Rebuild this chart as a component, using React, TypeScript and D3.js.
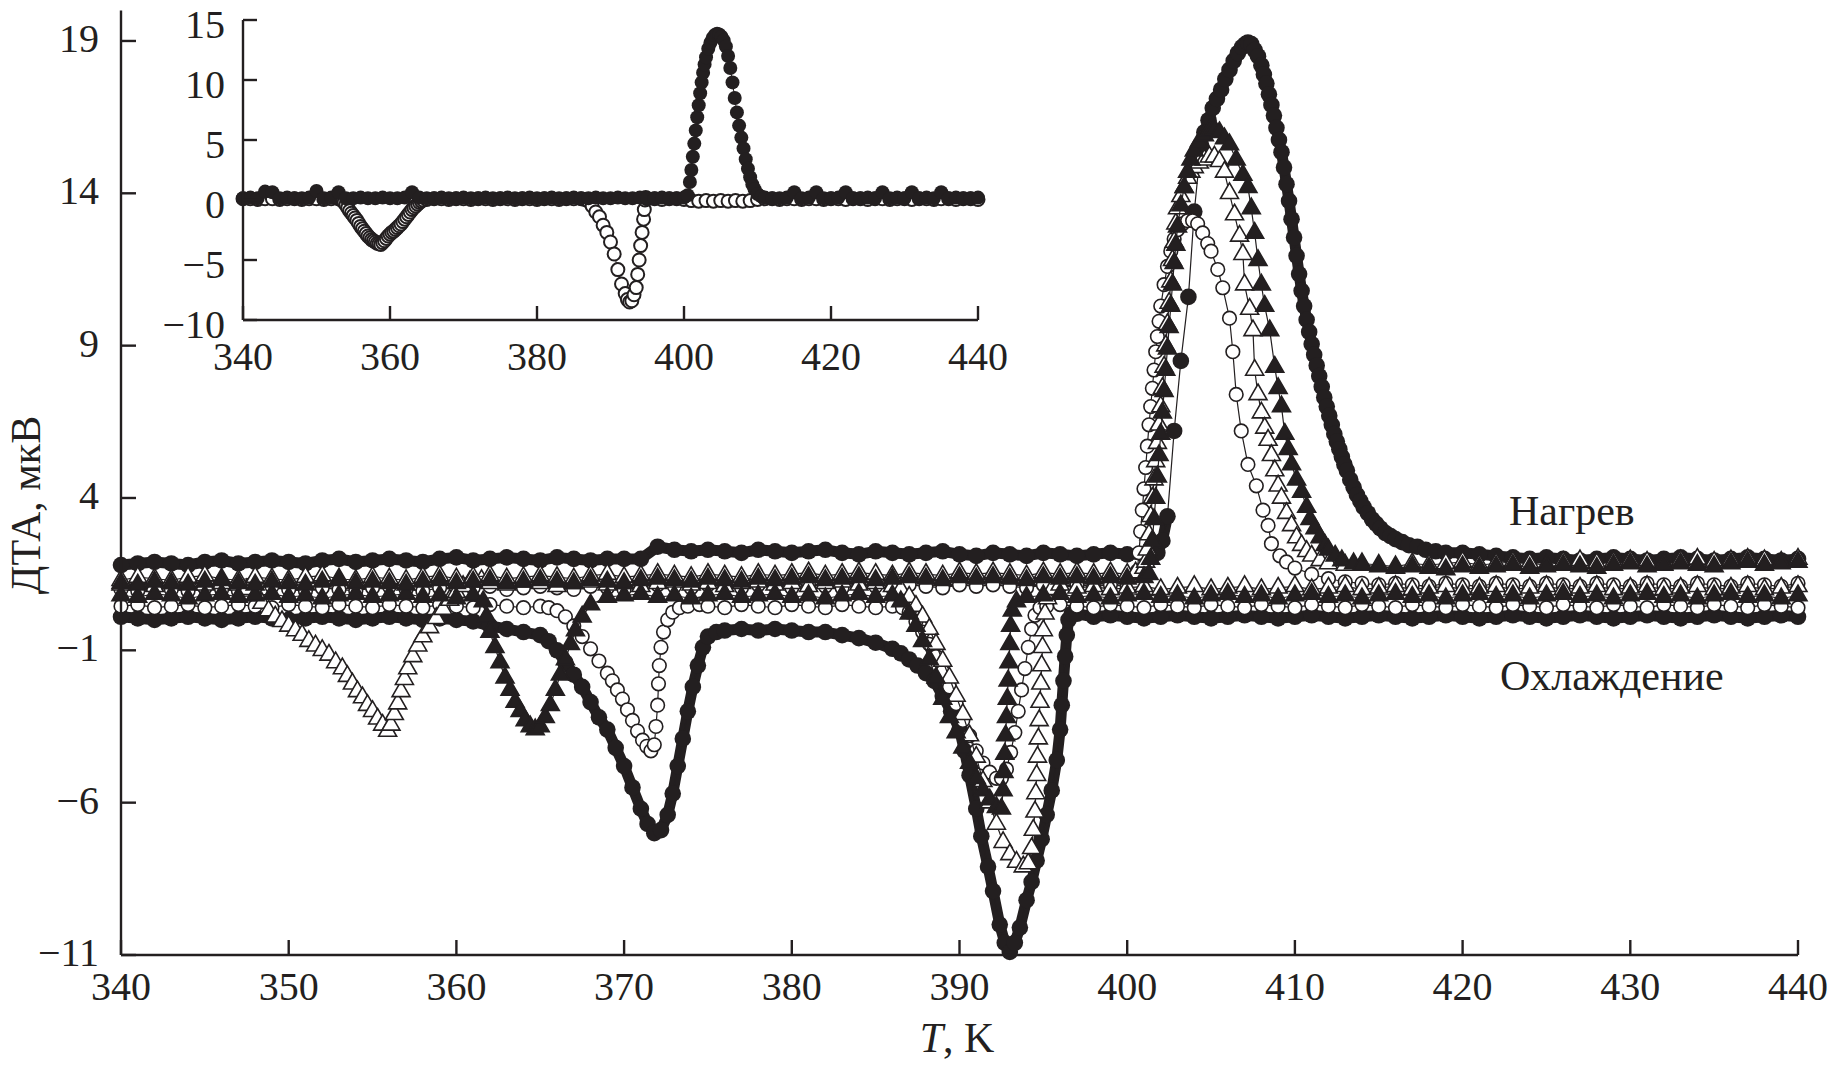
import React from "react";
import * as d3 from "d3";

type Pt = [number, number];

const W = 1834;
const H = 1073;
const INK = "#231f20";

// ---------- axis ticks & texts ----------
const mainXTicks = [340, 350, 360, 370, 380, 390, 400, 410, 420, 430, 440];
const mainYTicks = [-11, -6, -1, 4, 9, 14, 19];
const insetXTicks = [340, 360, 380, 400, 420, 440];
const insetYTicks = [-10, -5, 0, 5, 10, 15];
const yTitle = "ДТА, мкВ";
const xTitleVar = "T";
const xTitleUnit = ", K";
const heatLabel = "Нагрев";
const coolLabel = "Охлаждение";

// ---------- main plot: heating runs ----------
const mainHeatFilled: Pt[] = [
  [340,1.8],[341,1.85],[342,1.9],[343,1.85],[344,1.8],[345,1.9],[346,1.95],[347,1.85],[348,1.9],[349,1.95],
  [350,1.9],[351,1.85],[352,1.95],[353,2.0],[354,1.9],[355,1.95],[356,2.0],[357,1.95],[358,1.9],[359,2.0],
  [360,2.05],[361,1.95],[362,2.0],[363,2.05],[364,2.0],[365,1.95],[366,2.05],[367,2.0],[368,1.95],[369,2.0],
  [370,2.0],[371,2.0],[372,2.4],[373,2.3],[374,2.25],[375,2.3],[376,2.25],[377,2.2],[378,2.3],[379,2.25],
  [380,2.2],[381,2.25],[382,2.3],[383,2.2],[384,2.15],[385,2.25],[386,2.2],[387,2.15],[388,2.2],[389,2.25],
  [390,2.15],[391,2.1],[392,2.2],[393,2.15],[394,2.1],[395,2.2],[396,2.15],[397,2.1],[398,2.15],[399,2.2],
  [400,2.15],[401,2.15],[401.8,2.2],[402.1,2.6],[402.4,3.4],[402.8,6.2],[403.2,8.5],[403.65,10.6],
  [404.0,13.4],[404.4,15.6],[404.6,16.0],[404.85,16.4],[405.1,16.8],[405.35,17.1],[405.6,17.4],[405.85,17.75],
  [406.1,18.05],[406.35,18.35],[406.6,18.6],[406.85,18.8],[407.05,18.9],[407.2,18.95],[407.4,18.9],
  [407.6,18.7],[407.8,18.5],[408,18.2],[408.15,17.9],[408.3,17.6],[408.45,17.25],[408.6,16.9],[408.75,16.55],
  [408.9,16.15],[409.05,15.75],[409.2,15.35],[409.35,14.85],[409.5,14.3],[409.65,13.75],[409.8,13.15],
  [409.95,12.55],[410.1,11.95],[410.25,11.35],[410.4,10.8],[410.55,10.3],[410.7,9.85],[410.85,9.45],
  [411,9.05],[411.15,8.7],[411.3,8.35],[411.45,8.0],[411.6,7.65],[411.75,7.3],[411.9,7.0],[412.05,6.7],
  [412.2,6.4],[412.35,6.1],[412.5,5.85],[412.65,5.6],[412.8,5.35],[412.95,5.1],[413.1,4.9],[413.3,4.6],
  [413.5,4.35],[413.7,4.1],[413.9,3.9],[414.1,3.7],[414.35,3.5],[414.6,3.3],[414.85,3.15],[415.1,3.0],
  [415.4,2.85],[415.7,2.75],[416,2.65],[416.4,2.55],[416.8,2.45],[417.3,2.4],[417.8,2.3],[418.4,2.25],
  [419,2.2],[420,2.2],[421,2.15],[422,2.1],[423,2.05],[424,2.0],[425,2.05],[426,2.0],[427,1.95],
  [428,2.0],[429,2.05],[430,2.0],[431,1.95],[432,2.0],[433,2.05],[434,2.0],[435,1.95],[436,2.0],[437,2.05],
  [438,2.0],[439,1.95],[440,2.0]
];

const mainHeatTri: Pt[] = [
  [340,1.3],[341,1.4],[342,1.35],[343,1.3],[344,1.4],[345,1.45],[346,1.35],[347,1.3],[348,1.4],[349,1.35],
  [350,1.3],[351,1.4],[352,1.45],[353,1.35],[354,1.3],[355,1.4],[356,1.35],[357,1.3],[358,1.4],[359,1.45],
  [360,1.35],[361,1.4],[362,1.45],[363,1.35],[364,1.4],[365,1.45],[366,1.4],[367,1.35],[368,1.45],[369,1.5],
  [370,1.4],[371,1.45],[372,1.5],[373,1.45],[374,1.4],[375,1.5],[376,1.45],[377,1.4],[378,1.5],[379,1.45],
  [380,1.5],[381,1.55],[382,1.45],[383,1.5],[384,1.55],[385,1.5],[386,1.45],[387,1.55],[388,1.5],[389,1.45],
  [390,1.55],[391,1.5],[392,1.55],[393,1.5],[394,1.45],[395,1.55],[396,1.5],[397,1.55],[398,1.5],[399,1.55],
  [400,1.5],[400.5,1.55],[401,1.7],[401.1,1.9],[401.2,2.3],[401.3,2.8],[401.4,3.4],[401.5,4.0],[401.6,4.6],
  [401.7,5.2],[401.8,5.8],[401.9,6.4],[402,7.0],[402.1,7.6],[402.2,8.3],[402.3,9.0],[402.4,9.7],[402.5,10.4],
  [402.6,11.1],[402.7,11.8],[402.8,12.4],[402.9,13.0],[403,13.5],[403.2,13.9],[403.4,14.2],[403.6,14.5],
  [403.8,14.7],[404,14.85],[404.3,15.0],[404.6,15.1],[404.9,15.2],[405.2,15.2],[405.5,15.05],[405.8,14.7],
  [406.1,14.0],[406.4,13.3],[406.7,12.6],[406.9,12.0],[407,11.0],[407.3,10.2],[407.5,9.5],[407.6,8.2],
  [407.8,7.4],[408,6.8],[408.2,6.3],[408.4,5.9],[408.6,5.4],[408.8,4.9],[409,4.4],[409.2,4.0],[409.5,3.5],
  [409.8,3.1],[410.1,2.7],[410.4,2.45],[410.7,2.25],[411,2.1],[411.5,1.95],[412,1.85],[413,1.8],[414,1.85],
  [415,1.8],[416,1.75],[417,1.85],[418,1.8],[419,1.85],[420,1.9],[421,1.8],[422,1.85],[423,1.9],[424,1.85],
  [425,1.8],[426,1.9],[427,1.95],[428,1.85],[429,1.9],[430,1.95],[431,1.9],[432,1.85],[433,1.95],[434,2.0],
  [435,1.9],[436,1.95],[437,2.0],[438,1.95],[439,1.9],[440,2.0]
];

const mainHeatTriFill: Pt[] = [
  [340,1.2],[341,1.15],[342,1.25],[343,1.2],[344,1.15],[345,1.25],[346,1.3],[347,1.2],[348,1.15],[349,1.25],
  [350,1.2],[351,1.15],[352,1.25],[353,1.3],[354,1.2],[355,1.25],[356,1.2],[357,1.15],[358,1.25],[359,1.3],
  [360,1.2],[361,1.25],[362,1.3],[363,1.2],[364,1.25],[365,1.3],[366,1.25],[367,1.2],[368,1.3],[369,1.25],
  [370,1.2],[371,1.3],[372,1.35],[373,1.3],[374,1.25],[375,1.35],[376,1.3],[377,1.25],[378,1.35],[379,1.3],
  [380,1.35],[381,1.4],[382,1.3],[383,1.35],[384,1.4],[385,1.3],[386,1.35],[387,1.4],[388,1.35],[389,1.3],
  [390,1.4],[391,1.35],[392,1.4],[393,1.35],[394,1.3],[395,1.4],[396,1.35],[397,1.4],[398,1.35],[399,1.4],
  [400,1.35],[401,1.4],[401.3,1.5],[401.4,2.0],[401.5,2.6],[401.6,3.3],[401.7,4.0],[401.8,4.7],[401.9,5.4],
  [402,6.1],[402.1,6.8],[402.2,7.5],[402.3,8.2],[402.4,8.9],[402.5,9.6],[402.6,10.3],[402.7,11.0],[402.8,11.7],
  [402.9,12.3],[403,12.9],[403.2,13.6],[403.4,14.2],[403.6,14.7],[403.8,15.1],[404,15.4],[404.3,15.7],
  [404.6,15.9],[404.9,16.05],[405.2,16.1],[405.5,16.0],[405.8,15.8],[406.1,15.6],[406.5,15.1],[406.9,14.6],
  [407.2,14.2],[407.4,13.5],[407.6,12.7],[407.8,11.8],[408,11.0],[408.2,10.3],[408.5,9.5],[408.8,8.3],
  [409,7.6],[409.2,7.0],[409.4,6.1],[409.6,5.6],[409.8,5.1],[410.1,4.6],[410.4,4.2],[410.7,3.7],[410.9,3.3],
  [411.2,3.0],[411.5,2.7],[411.8,2.45],[412,2.3],[412.4,2.1],[412.8,1.95],[413.5,1.85],[414,1.8],[415,1.75],
  [416,1.7],[417,1.75],[418,1.7],[419,1.65],[420,1.75],[421,1.7],[422,1.75],[423,1.8],[424,1.7],[425,1.75],
  [426,1.8],[427,1.75],[428,1.7],[429,1.8],[430,1.85],[431,1.75],[432,1.8],[433,1.85],[434,1.8],[435,1.75],
  [436,1.85],[437,1.9],[438,1.8],[439,1.85],[440,1.9]
];

const mainHeatCircle: Pt[] = [
  [340,1.0],[341,0.95],[342,1.05],[343,1.0],[344,0.95],[345,1.05],[346,1.0],[347,0.95],[348,1.05],[349,1.1],
  [350,1.0],[351,0.95],[352,1.05],[353,1.0],[354,0.95],[355,1.05],[356,1.1],[357,1.0],[358,0.95],[359,1.05],
  [360,1.0],[361,1.05],[362,1.1],[363,1.0],[364,1.05],[365,1.1],[366,1.05],[367,1.0],[368,1.1],[369,1.05],
  [370,1.0],[371,1.1],[372,1.15],[373,1.1],[374,1.05],[375,1.15],[376,1.1],[377,1.05],[378,1.15],[379,1.1],
  [380,1.05],[381,1.15],[382,1.1],[383,1.05],[384,1.15],[385,1.1],[386,1.05],[387,1.15],[388,1.1],[389,1.05],
  [390,1.15],[391,1.1],[392,1.15],[393,1.1],[394,1.05],[395,1.15],[396,1.1],[397,1.15],[398,1.1],[399,1.15],
  [400,1.1],[400.5,1.2],[400.6,1.6],[400.7,2.2],[400.8,2.9],[400.9,3.6],[401,4.3],[401.1,5.0],[401.2,5.7],
  [401.3,6.4],[401.4,7.0],[401.5,7.6],[401.6,8.2],[401.7,8.8],[401.8,9.3],[401.9,9.8],[402,10.3],[402.2,11.0],
  [402.4,11.6],[402.6,12.1],[402.8,12.5],[403,12.8],[403.3,13.0],[403.6,13.1],[403.9,13.1],[404.2,13.0],
  [404.5,12.7],[404.8,12.35],[405,12.1],[405.4,11.5],[405.7,10.9],[406.1,9.9],[406.3,8.8],[406.5,7.4],
  [406.8,6.2],[407.2,5.1],[407.7,4.4],[408.1,3.6],[408.4,3.1],[408.6,2.5],[409.1,2.1],[409.5,1.9],[410,1.7],
  [411,1.5],[412,1.35],[413,1.25],[414,1.2],[415,1.15],[416,1.2],[417,1.15],[418,1.1],[419,1.2],[420,1.15],
  [421,1.1],[422,1.2],[423,1.15],[424,1.1],[425,1.2],[426,1.15],[427,1.1],[428,1.2],[429,1.15],[430,1.1],
  [431,1.2],[432,1.15],[433,1.1],[434,1.2],[435,1.15],[436,1.1],[437,1.2],[438,1.15],[439,1.1],[440,1.2]
];

// ---------- main plot: cooling runs ----------
const mainCoolFilled: Pt[] = [
  [340,0.1],[341,0.05],[342,0.0],[343,0.05],[344,0.1],[345,0.05],[346,0.0],[347,0.05],[348,0.1],[349,0.05],
  [350,0.0],[351,0.05],[352,0.1],[353,0.05],[354,0.0],[355,0.05],[356,0.1],[357,0.05],[358,0.0],[359,0.05],
  [360,0.0],[361,-0.05],[362,-0.2],[363,-0.3],[364,-0.4],[365,-0.5],[365.5,-0.7],[366,-1.0],[366.5,-1.4],
  [367,-1.8],[367.5,-2.2],[368,-2.7],[368.5,-3.2],[369,-3.6],[369.5,-4.2],[370,-4.8],[370.5,-5.5],[371,-6.2],
  [371.4,-6.7],[371.8,-7.0],[372.2,-6.9],[372.6,-6.4],[372.9,-5.7],[373.2,-4.8],[373.5,-3.9],[373.8,-3.0],
  [374.1,-2.2],[374.4,-1.5],[374.7,-0.9],[375,-0.55],[375.5,-0.4],[376,-0.35],[377,-0.3],[378,-0.35],
  [379,-0.3],[380,-0.35],[381,-0.4],[382,-0.4],[383,-0.5],[384,-0.6],[385,-0.75],[386,-0.95],[386.5,-1.1],
  [387,-1.3],[387.5,-1.5],[388,-1.75],[388.5,-2.0],[389,-2.5],[389.5,-3.0],[390,-3.6],[390.3,-4.3],
  [390.6,-5.1],[391,-6.2],[391.3,-7.1],[391.7,-8.1],[392,-8.9],[392.4,-10.0],[392.7,-10.6],[393,-10.9],
  [393.3,-10.6],[393.6,-10.1],[394,-9.2],[394.3,-8.6],[394.6,-7.9],[394.9,-7.2],[395.2,-6.4],[395.5,-5.6],
  [395.8,-4.6],[396,-3.6],[396.1,-2.8],[396.2,-2.0],[396.3,-1.2],[396.4,-0.5],[396.5,0.0],[396.7,0.2],
  [397,0.2],[398,0.1],[399,0.15],[400,0.1],[401,0.05],[402,0.1],[403,0.15],[404,0.1],[405,0.05],[406,0.1],
  [407,0.15],[408,0.1],[409,0.05],[410,0.1],[411,0.15],[412,0.1],[413,0.05],[414,0.1],[415,0.15],[416,0.1],
  [417,0.05],[418,0.1],[419,0.15],[420,0.1],[421,0.05],[422,0.1],[423,0.15],[424,0.1],[425,0.05],[426,0.1],
  [427,0.15],[428,0.1],[429,0.05],[430,0.1],[431,0.15],[432,0.1],[433,0.05],[434,0.1],[435,0.15],[436,0.1],
  [437,0.05],[438,0.1],[439,0.15],[440,0.1]
];

const mainCoolCircle: Pt[] = [
  [340,0.45],[341,0.5],[342,0.4],[343,0.45],[344,0.5],[345,0.4],[346,0.45],[347,0.5],[348,0.45],[349,0.4],
  [350,0.5],[351,0.45],[352,0.4],[353,0.5],[354,0.45],[355,0.4],[356,0.5],[357,0.45],[358,0.4],[359,0.5],
  [360,0.45],[361,0.4],[362,0.5],[363,0.45],[364,0.4],[365,0.45],[365.5,0.4],[366,0.3],[366.5,0.1],
  [367,-0.2],[367.5,-0.55],[368,-0.95],[368.5,-1.35],[369,-1.75],[369.3,-2.0],[369.6,-2.3],[369.9,-2.6],
  [370.2,-2.95],[370.5,-3.3],[370.8,-3.65],[371.1,-3.95],[371.35,-4.15],[371.6,-4.3],[371.8,-4.1],
  [371.9,-3.5],[372,-2.8],[372.05,-2.1],[372.1,-1.5],[372.2,-0.9],[372.35,-0.4],[372.6,0.0],[372.9,0.25],
  [373.3,0.4],[373.8,0.45],[374.5,0.5],[375,0.45],[376,0.4],[377,0.5],[378,0.45],[379,0.4],[380,0.5],
  [381,0.45],[382,0.4],[383,0.5],[384,0.45],[385,0.4],[386,0.45],[386.6,0.4],[387,0.25],[387.4,-0.05],
  [387.8,-0.4],[388.2,-0.8],[388.6,-1.2],[389,-1.7],[389.4,-2.2],[389.8,-2.75],[390.2,-3.3],[390.6,-3.8],
  [391,-4.3],[391.4,-4.7],[391.8,-5.0],[392.2,-5.2],[392.5,-5.2],[392.8,-4.9],[393.05,-4.35],[393.3,-3.7],
  [393.5,-3.0],[393.7,-2.3],[393.9,-1.6],[394.1,-0.9],[394.3,-0.3],[394.5,0.15],[394.8,0.4],[395.2,0.45],
  [396,0.5],[397,0.45],[398,0.4],[399,0.5],[400,0.45],[401,0.4],[402,0.5],[403,0.45],[404,0.4],[405,0.5],
  [406,0.45],[407,0.4],[408,0.5],[409,0.45],[410,0.4],[411,0.5],[412,0.45],[413,0.4],[414,0.5],[415,0.45],
  [416,0.4],[417,0.5],[418,0.45],[419,0.4],[420,0.5],[421,0.45],[422,0.4],[423,0.5],[424,0.45],[425,0.4],
  [426,0.5],[427,0.45],[428,0.4],[429,0.5],[430,0.45],[431,0.4],[432,0.5],[433,0.45],[434,0.4],[435,0.5],
  [436,0.45],[437,0.4],[438,0.5],[439,0.45],[440,0.4]
];

const mainCoolTri: Pt[] = [
  [340,1.15],[341,1.2],[342,1.1],[343,1.2],[344,1.25],[345,1.15],[346,1.2],[347,1.15],[347.5,1.0],[348,0.8],
  [348.4,0.55],[348.8,0.3],[349.2,0.1],[349.6,-0.05],[350,-0.2],[350.4,-0.35],[350.8,-0.5],[351.2,-0.7],
  [351.6,-0.85],[352,-1.0],[352.4,-1.15],[352.8,-1.4],[353.2,-1.6],[353.5,-1.85],[353.8,-2.1],[354.1,-2.35],
  [354.4,-2.55],[354.7,-2.8],[355,-3.0],[355.3,-3.25],[355.6,-3.45],[355.9,-3.65],[356.1,-3.45],[356.3,-3.1],
  [356.5,-2.75],[356.7,-2.35],[356.9,-1.95],[357.1,-1.6],[357.4,-1.2],[357.7,-0.85],[358,-0.55],[358.4,-0.25],
  [358.8,0.05],[359.2,0.35],[359.6,0.65],[360,0.9],[360.4,1.1],[360.8,1.25],[361.5,1.3],[362,1.2],[363,1.15],
  [364,1.25],[365,1.2],[366,1.1],[367,1.2],[368,1.25],[369,1.15],[370,1.2],[371,1.1],[372,1.2],[373,1.25],
  [374,1.15],[375,1.2],[376,1.1],[377,1.2],[378,1.25],[379,1.15],[380,1.2],[381,1.1],[382,1.2],[383,1.25],
  [384,1.15],[385,1.2],[386,1.1],[386.5,1.0],[387,0.75],[387.4,0.45],[387.8,0.1],[388.2,-0.3],[388.6,-0.8],
  [389,-1.35],[389.4,-1.9],[389.8,-2.5],[390.2,-3.1],[390.6,-3.8],[391,-4.5],[391.4,-5.3],[391.8,-6.0],
  [392.2,-6.7],[392.6,-7.3],[393,-7.7],[393.4,-7.95],[393.8,-8.1],[394.1,-8.0],[394.3,-7.5],[394.4,-6.9],
  [394.5,-6.3],[394.55,-5.7],[394.6,-5.1],[394.65,-4.5],[394.7,-3.9],[394.75,-3.3],[394.8,-2.7],[394.85,-2.1],
  [394.9,-1.5],[394.95,-0.9],[395,-0.35],[395.1,0.2],[395.25,0.7],[395.5,1.0],[396,1.15],[397,1.05],[398,1.1],
  [399,1.0],[400,1.05],[401,1.1],[402,1.0],[403,1.05],[404,1.1],[405,1.0],[406,1.05],[407,1.1],[408,1.0],
  [409,1.05],[410,1.1],[411,1.0],[412,1.05],[413,1.1],[414,1.0],[415,1.05],[416,1.1],[417,1.0],[418,1.05],
  [419,1.1],[420,1.0],[421,1.05],[422,1.1],[423,1.0],[424,1.05],[425,1.1],[426,1.0],[427,1.05],[428,1.1],
  [429,1.0],[430,1.05],[431,1.1],[432,1.0],[433,1.05],[434,1.1],[435,1.0],[436,1.05],[437,1.1],[438,1.0],
  [439,1.05],[440,1.1]
];

const mainCoolTriFill: Pt[] = [
  [340,0.8],[341,0.75],[342,0.85],[343,0.8],[344,0.7],[345,0.8],[346,0.85],[347,0.75],[348,0.8],[349,0.85],
  [350,0.75],[351,0.8],[352,0.7],[353,0.8],[354,0.85],[355,0.75],[356,0.8],[357,0.85],[358,0.75],[359,0.8],
  [360,0.7],[361,0.8],[361.6,0.6],[361.8,0.1],[362,-0.4],[362.3,-0.9],[362.6,-1.4],[362.9,-1.9],[363.2,-2.3],
  [363.5,-2.7],[363.8,-3.0],[364.1,-3.3],[364.4,-3.5],[364.7,-3.6],[365,-3.5],[365.3,-3.2],[365.6,-2.8],
  [365.9,-2.3],[366.2,-1.8],[366.5,-1.3],[366.8,-0.8],[367.1,-0.35],[367.5,0.1],[368,0.5],[369,0.75],
  [370,0.8],[371,0.85],[372,0.75],[373,0.8],[374,0.7],[375,0.8],[376,0.85],[377,0.75],[378,0.8],[379,0.85],
  [380,0.75],[381,0.8],[382,0.7],[383,0.8],[384,0.85],[385,0.75],[386,0.8],[386.5,0.6],[387,0.2],
  [387.4,-0.2],[387.8,-0.7],[388.2,-1.3],[388.6,-1.9],[389,-2.6],[389.4,-3.2],[389.8,-3.7],[390.2,-4.2],
  [390.6,-4.7],[391,-5.2],[391.4,-5.6],[391.8,-5.9],[392.2,-6.15],[392.5,-6.2],[392.6,-5.6],[392.65,-5.0],
  [392.7,-4.4],[392.75,-3.8],[392.8,-3.2],[392.85,-2.6],[392.9,-2.0],[392.95,-1.4],[393,-0.8],[393.05,-0.2],
  [393.15,0.3],[393.4,0.6],[394,0.75],[395,0.8],[396,0.85],[397,0.75],[398,0.8],[399,0.7],[400,0.8],
  [401,0.85],[402,0.75],[403,0.8],[404,0.7],[405,0.8],[406,0.85],[407,0.75],[408,0.8],[409,0.7],[410,0.8],
  [411,0.85],[412,0.75],[413,0.8],[414,0.7],[415,0.8],[416,0.85],[417,0.75],[418,0.8],[419,0.7],[420,0.8],
  [421,0.85],[422,0.75],[423,0.8],[424,0.7],[425,0.8],[426,0.85],[427,0.75],[428,0.8],[429,0.7],[430,0.8],
  [431,0.85],[432,0.75],[433,0.8],[434,0.7],[435,0.8],[436,0.85],[437,0.75],[438,0.8],[439,0.7],[440,0.8]
];

// ---------- inset ----------
const insetHeatFilled: Pt[] = [
  [340,0.15],[341,0.2],[342,0.15],[343,0.7],[344,0.65],[345,0.15],[346,0.2],[347,0.15],[348,0.15],[349,0.2],
  [350,0.75],[351,0.15],[352,0.2],[353,0.65],[354,0.15],[355,0.15],[356,0.2],[357,0.15],[358,0.15],[359,0.2],
  [360,0.15],[361,0.15],[362,0.2],[363,0.65],[364,0.2],[365,0.15],[366,0.15],[367,0.2],[368,0.15],[369,0.15],
  [370,0.2],[371,0.15],[372,0.15],[373,0.2],[374,0.15],[375,0.15],[376,0.2],[377,0.15],[378,0.15],[379,0.2],
  [380,0.15],[381,0.15],[382,0.2],[383,0.15],[384,0.15],[385,0.2],[386,0.15],[387,0.15],[388,0.2],[389,0.15],
  [390,0.15],[391,0.2],[392,0.15],[393,0.15],[394,0.2],[395,0.15],[396,0.15],[397,0.2],[398,0.15],[399,0.15],
  [400,0.2],[400.5,0.4],[400.8,1.5],[401,2.5],[401.2,3.6],[401.4,4.7],[401.6,5.8],[401.8,6.9],[402,7.9],
  [402.2,8.9],[402.4,9.8],[402.6,10.6],[402.8,11.3],[403,11.9],[403.3,12.6],[403.6,13.1],[403.9,13.5],
  [404.2,13.75],[404.5,13.85],[404.8,13.8],[405.1,13.6],[405.4,13.3],[405.7,12.8],[406,12.0],[406.3,11.0],
  [406.6,9.8],[406.9,8.5],[407.2,7.3],[407.5,6.2],[407.8,5.2],[408.1,4.3],[408.4,3.4],[408.7,2.6],[409,1.9],
  [409.3,1.3],[409.6,0.9],[410,0.5],[410.5,0.3],[411,0.2],[412,0.15],[413,0.15],[414,0.2],[415,0.65],
  [416,0.15],[417,0.2],[418,0.65],[419,0.15],[420,0.15],[421,0.2],[422,0.65],[423,0.15],[424,0.15],[425,0.2],
  [426,0.15],[427,0.65],[428,0.15],[429,0.2],[430,0.15],[431,0.65],[432,0.15],[433,0.2],[434,0.15],[435,0.65],
  [436,0.15],[437,0.2],[438,0.15],[439,0.15],[440,0.2]
];

const insetCoolCircle: Pt[] = [
  [340,0.1],[341,0.1],[342,0.05],[343,0.1],[344,0.1],[345,0.05],[346,0.1],[347,0.1],[348,0.05],[349,0.1],
  [350,0.1],[351,0.05],[352,0.1],[353,0.1],[353.25,0.05],[353.5,0.0],[353.75,-0.2],[354,-0.4],[354.25,-0.65],
  [354.5,-0.9],[354.75,-1.1],[355,-1.3],[355.25,-1.5],[355.5,-1.7],[355.75,-1.95],[356,-2.2],[356.25,-2.4],
  [356.5,-2.6],[356.75,-2.8],[357,-3.0],[357.25,-3.15],[357.5,-3.3],[357.75,-3.4],[358,-3.5],[358.25,-3.6],
  [358.5,-3.65],[358.75,-3.7],[359,-3.55],[359.25,-3.4],[359.5,-3.2],[359.75,-3.0],[360,-2.85],[360.25,-2.7],
  [360.5,-2.6],[360.75,-2.45],[361,-2.3],[361.25,-2.15],[361.5,-2.0],[361.75,-1.8],[362,-1.6],[362.25,-1.4],
  [362.5,-1.2],[362.75,-1.0],[363,-0.8],[363.25,-0.65],[363.5,-0.5],[363.75,-0.35],[364,-0.2],[364.25,-0.1],
  [364.5,0.0],[365,0.05],[366,0.1],[367,0.1],[368,0.05],[369,0.1],[370,0.1],
  [371,0.05],[372,0.1],[373,0.1],[374,0.05],[375,0.1],[376,0.1],[377,0.05],[378,0.1],[379,0.1],[380,0.05],
  [381,0.1],[382,0.1],[383,0.05],[384,0.1],[385,0.1],[386,0.1],[386.5,0.05],[387,-0.1],[387.5,-0.5],
  [388,-1.0],[388.5,-1.4],[389,-2.1],[389.5,-2.7],[390,-3.5],[390.5,-4.5],[391,-5.8],[391.5,-7.0],[392,-7.8],
  [392.3,-8.3],[392.6,-8.5],[392.9,-8.4],[393.2,-7.9],[393.5,-7.3],[393.7,-6.2],[393.9,-5.0],[394.1,-3.8],
  [394.3,-2.7],[394.5,-1.6],[394.6,-0.8],[394.7,0.0],[394.8,0.2],[395,0.1],[396,0.1],[397,0.05],[398,0.1],
  [399,0.1],[400,0.05],[401,-0.05],[402,-0.1],[403,-0.05],[404,-0.1],[405,-0.05],[406,-0.1],[407,-0.05],
  [408,-0.1],[409,-0.05],[410,0.05],[411,0.1],[412,0.1],[413,0.05],[414,0.1],[415,0.1],[416,0.05],[417,0.1],
  [418,0.1],[419,0.05],[420,0.1],[421,0.1],[422,0.05],[423,0.1],[424,0.1],[425,0.05],[426,0.1],[427,0.1],
  [428,0.05],[429,0.1],[430,0.1],[431,0.05],[432,0.1],[433,0.1],[434,0.05],[435,0.1],[436,0.1],[437,0.05],
  [438,0.1],[439,0.1],[440,0.05]
];

type Kind = "dot" | "circle" | "tri" | "triFill";
// band: draw a heavy connecting band; gap: only join markers closer than this (px)
type Spec = { data: Pt[]; kind: Kind; band?: boolean; gap?: number };

const mainSeries: Spec[] = [
  { data: mainCoolFilled, kind: "dot", band: true, gap: Infinity },
  { data: mainHeatFilled, kind: "dot", band: true, gap: 27 },
  { data: mainCoolCircle, kind: "circle" },
  { data: mainHeatCircle, kind: "circle" },
  { data: mainCoolTri, kind: "tri" },
  { data: mainHeatTri, kind: "tri" },
  { data: mainCoolTriFill, kind: "triFill" },
  { data: mainHeatTriFill, kind: "triFill" },
];

const insetSeries: Spec[] = [
  { data: insetCoolCircle, kind: "circle" },
  { data: insetHeatFilled, kind: "dot" },
];

const mainStyle = { dotR: 8.3, dotLine: 11, thinLine: 1.2, circR: 6.8, triSize: 140, stroke: 1.6 };
const insetStyle = { dotR: 7, dotLine: 6, thinLine: 1.0, circR: 6.5, triSize: 100, stroke: 2 };

const FONT = "'Liberation Serif', 'Times New Roman', Times, serif";

const fmt = (v: number) => (v < 0 ? "\u2212" + Math.abs(v) : String(v));

// Split screen-space points into runs where neighbouring markers are close
// (the reference's dense marker chains), so the heavy band only joins them.
function denseRuns(pts: [number, number][], maxGap: number): [number, number][][] {
  const runs: [number, number][][] = [];
  let cur: [number, number][] = [];
  pts.forEach((p) => {
    if (cur.length) {
      const q = cur[cur.length - 1];
      if (Math.hypot(p[0] - q[0], p[1] - q[1]) > maxGap) {
        runs.push(cur);
        cur = [];
      }
    }
    cur.push(p);
  });
  if (cur.length) runs.push(cur);
  return runs.filter((r) => r.length > 1);
}

function renderSeries(
  spec: Spec,
  sx: d3.ScaleLinear<number, number>,
  sy: d3.ScaleLinear<number, number>,
  st: typeof mainStyle,
  key: string
) {
  const pts: [number, number][] = spec.data.map((d) => [sx(d[0]), sy(d[1])]);
  const line = d3.line();
  const tri = d3.symbol().type(d3.symbolTriangle).size(st.triSize)() as string;
  return (
    <g key={key}>
      {spec.band &&
        denseRuns(pts, spec.gap ?? Infinity).map((r, j) => (
          <path key={"r" + j} d={line(r) || ""} fill="none" stroke={INK} strokeWidth={st.dotLine} strokeLinejoin="round" strokeLinecap="round" />
        ))}
      <path d={line(pts) || ""} fill="none" stroke={INK} strokeWidth={st.thinLine} strokeLinejoin="round" />
      {pts.map(([cx, cy], i) => {
        if (spec.kind === "dot") return <circle key={i} cx={cx} cy={cy} r={st.dotR} fill={INK} />;
        if (spec.kind === "circle")
          return <circle key={i} cx={cx} cy={cy} r={st.circR} fill="#fff" stroke={INK} strokeWidth={st.stroke} />;
        if (spec.kind === "tri")
          return <path key={i} d={tri} transform={`translate(${cx},${cy})`} fill="#fff" stroke={INK} strokeWidth={st.stroke} />;
        return <path key={i} d={tri} transform={`translate(${cx},${cy})`} fill={INK} stroke={INK} strokeWidth={st.stroke} />;
      })}
    </g>
  );
}

export default function App() {
  const mx = d3.scaleLinear().domain([340, 440]).range([121, 1798]);
  const my = d3.scaleLinear().domain([-11, 20]).range([955, 10.5]);
  const ix = d3.scaleLinear().domain([340, 440]).range([243, 978]);
  const iy = d3.scaleLinear().domain([-10, 15]).range([320, 20]);

  const axisW = 2.4;
  const mainTick = 15;
  const insetTick = 14;

  return (
    <svg
      width={W}
      height={H}
      viewBox={`0 0 ${W} ${H}`}
      style={{ position: "absolute", left: 0, top: 0, background: "#fff", display: "block", fontFamily: FONT }}
    >
      <rect x={0} y={0} width={W} height={H} fill="#fff" />

      {/* main series */}
      {mainSeries.map((s, i) => renderSeries(s, mx, my, mainStyle, "m" + i))}

      {/* main axes */}
      <g stroke={INK} strokeWidth={axisW} fill="none">
        <line x1={mx(340)} x2={mx(440)} y1={my(-11)} y2={my(-11)} />
        <line x1={mx(340)} x2={mx(340)} y1={my(-11)} y2={my(20)} />
        {mainXTicks.map((t) => (
          <line key={"xt" + t} x1={mx(t)} x2={mx(t)} y1={my(-11)} y2={my(-11) - mainTick} />
        ))}
        {mainYTicks.map((t) => (
          <line key={"yt" + t} x1={mx(340)} x2={mx(340) + mainTick} y1={my(t)} y2={my(t)} />
        ))}
      </g>
      <g fill={INK} fontSize={40} style={{ fontFamily: FONT }}>
        {mainXTicks.map((t) => (
          <text key={"xl" + t} x={mx(t)} y={1000} textAnchor="middle">
            {fmt(t)}
          </text>
        ))}
        {mainYTicks.map((t) => (
          <text key={"yl" + t} x={99} y={my(t) + 11} textAnchor="end">
            {fmt(t)}
          </text>
        ))}
        <text x={957} y={1052} textAnchor="middle" fontSize={42}>
          <tspan fontStyle="italic">{xTitleVar}</tspan>
          <tspan>{xTitleUnit}</tspan>
        </text>
        <text transform={`translate(40,505) rotate(-90)`} textAnchor="middle" fontSize={42}>
          {yTitle}
        </text>
        <text x={1509} y={525} fontSize={42}>
          {heatLabel}
        </text>
        <text x={1500} y={690} fontSize={42}>
          {coolLabel}
        </text>
      </g>

      {/* inset */}
      {insetSeries.map((s, i) => renderSeries(s, ix, iy, insetStyle, "i" + i))}
      <g stroke={INK} strokeWidth={axisW} fill="none">
        <line x1={ix(340)} x2={ix(440)} y1={iy(-10)} y2={iy(-10)} />
        <line x1={ix(340)} x2={ix(340)} y1={iy(-10)} y2={iy(15)} />
        {insetXTicks.map((t) => (
          <line key={"ixt" + t} x1={ix(t)} x2={ix(t)} y1={iy(-10)} y2={iy(-10) - insetTick} />
        ))}
        {insetYTicks.map((t) => (
          <line key={"iyt" + t} x1={ix(340)} x2={ix(340) + insetTick} y1={iy(t)} y2={iy(t)} />
        ))}
      </g>
      <g fill={INK} fontSize={40} style={{ fontFamily: FONT }}>
        {insetXTicks.map((t) => (
          <text key={"ixl" + t} x={ix(t)} y={370} textAnchor="middle">
            {fmt(t)}
          </text>
        ))}
        {insetYTicks.map((t) => (
          <text key={"iyl" + t} x={225} y={iy(t) + 17.5} textAnchor="end">
            {fmt(t)}
          </text>
        ))}
      </g>
    </svg>
  );
}
